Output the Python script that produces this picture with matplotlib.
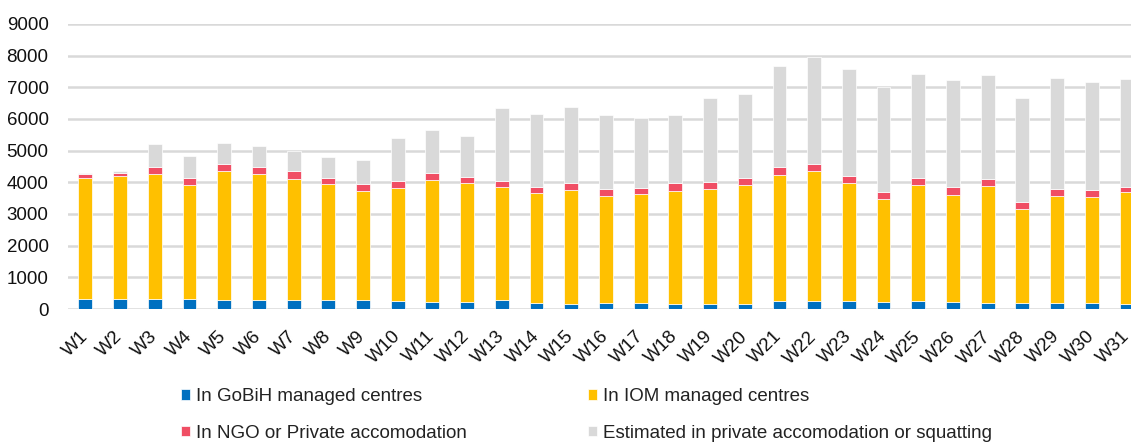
import numpy as np
import matplotlib.pyplot as plt

plt.rcParams['font.family'] = ['Liberation Sans', 'DejaVu Sans']

# weekly counts
weeks = ['W%d' % i for i in range(1, 32)]
gobih = [316, 316, 326, 316, 295, 295, 295, 284, 284, 263, 232, 232, 274, 200, 168, 179,
         200, 168, 158, 168, 263, 242, 242, 221, 242, 210, 200, 200, 200, 200, 168]
iom = [3831, 3894, 3937, 3589, 4063, 3968, 3810, 3674, 3453, 3569, 3842, 3758, 3579, 3463,
       3600, 3400, 3432, 3569, 3631, 3748, 3958, 4105, 3737, 3253, 3674, 3401, 3674, 2958,
       3368, 3347, 3516]
ngo = [106, 85, 232, 232, 231, 232, 253, 189, 221, 210, 231, 178, 189, 190, 211, 200, 200,
       231, 222, 221, 263, 232, 231, 221, 210, 231, 221, 210, 211, 211, 179]
estimated = [52, 63, 715, 705, 664, 663, 642, 663, 737, 1368, 1348, 1295, 2305, 2315, 2410,
             2358, 2189, 2158, 2652, 2663, 3200, 3368, 3369, 3315, 3306, 3390, 3294, 3306,
             3516, 3410, 3411]

series = [
    ('In GoBiH managed centres', gobih, '#0070C0'),
    ('In IOM managed centres', iom, '#FFC000'),
    ('In NGO or Private accomodation', ngo, '#F04E64'),
    ('Estimated in private accomodation or squatting', estimated, '#D9D9D9'),
]

W, H = 1131, 443
fig = plt.figure(figsize=(W / 100, H / 100), dpi=100)
ax = fig.add_axes([68 / W, 1 - 309 / H, 1 - 68 / W, 285 / H])

x = np.arange(len(weeks))
bottom = np.zeros(len(weeks))
handles = []
for label, vals, color in series:
    vals = np.array(vals, dtype=float)
    b = ax.bar(x, vals, 0.4, bottom=bottom, color=color, edgecolor='white',
               linewidth=0.5, label=label, zorder=3)
    handles.append(b)
    bottom += vals

ax.set_ylim(0, 9000)
ax.set_xlim(-0.5, 30.13)
ax.set_yticks(np.arange(0, 9001, 1000))
ax.grid(axis='y', color='#D9D9D9', linewidth=1.8, zorder=0)
ax.set_axisbelow(True)
for s in ax.spines.values():
    s.set_visible(False)
ax.tick_params(length=0, labelsize=13.5, colors='#111111')
ax.tick_params(axis='y', pad=14)
ax.set_xticks(x)
ax.set_xticklabels(weeks, rotation=45, ha='right', va='center', rotation_mode='anchor')
ax.tick_params(axis='x', pad=18)

# legend is filled row by row in the reference
order = [0, 2, 1, 3]
fig.legend(handles=[handles[i] for i in order], loc='upper left',
           bbox_to_anchor=(181 / W, 1 - 388 / H),
           ncol=2, frameon=False, fontsize=13.5, borderpad=0, borderaxespad=0,
           handlelength=0.48, handleheight=0.48, handletextpad=0.32,
           labelspacing=1.05, columnspacing=6.45, labelcolor='#222222')

fig.savefig('out.png', dpi=100)
